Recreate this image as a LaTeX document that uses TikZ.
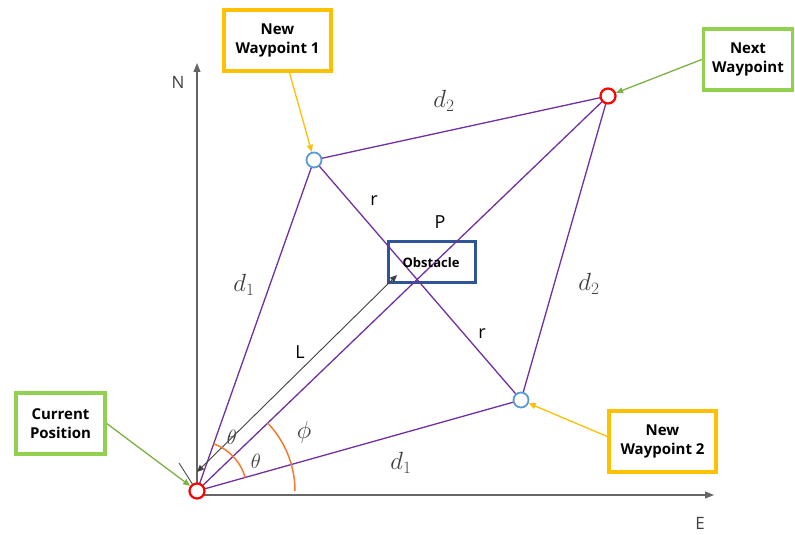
\documentclass[tikz,border=0pt]{standalone}
\usepackage{fontspec}
\setsansfont{Open Sans}
\usetikzlibrary{arrows.meta}
\definecolor{pur}{RGB}{112,48,160}
\definecolor{ylw}{RGB}{255,192,0}
\definecolor{grn}{RGB}{146,208,80}
\definecolor{dblue}{RGB}{47,85,151}
\definecolor{lblue}{RGB}{91,155,213}
\definecolor{ora}{RGB}{237,125,49}
\definecolor{txt}{RGB}{64,64,64}
\tikzset{
  pline/.style={draw=pur, line width=1.3pt},
  wpy/.style={circle, draw=lblue, fill=white, line width=1.8pt, minimum size=15pt, inner sep=0pt},
  wpr/.style={circle, draw=red, fill=white, line width=2.2pt, minimum size=15pt, inner sep=0pt},
  ybox/.style={draw=ylw, line width=3.5pt, fill=white, align=center, font=\sffamily\bfseries\fontsize{15}{19}\selectfont, minimum width=107pt, minimum height=61pt},
  gbox/.style={draw=grn, line width=3.5pt, fill=white, align=center, font=\sffamily\bfseries\fontsize{15}{19}\selectfont, minimum width=89pt, minimum height=61pt, inner sep=1pt},
  mlab/.style={text=txt, font=\fontsize{26}{26}\selectfont},
  slab/.style={text=black, font=\sffamily\fontsize{18}{18}\selectfont},
  oarc/.style={draw=ora, line width=1.5pt},
}
\begin{document}
\begin{tikzpicture}[x=1pt,y=-1pt]
\useasboundingbox (0,0) rectangle (795,535);
% axes
\coordinate (O) at (197,491);
\coordinate (Ntip) at (197,63);
\coordinate (Etip) at (714,495);
\coordinate (Nbase) at (197,495);
\coordinate (Ebase) at (197,495);
\draw[gray!80!black, line width=1.1pt, -{Triangle[length=9pt,width=7pt]}] (Nbase) -- (Ntip);
\draw[gray!80!black, line width=1.1pt, -{Triangle[length=9pt,width=7pt]}] (Ebase) -- (Etip);
\node[font=\sffamily\fontsize{17}{17}\selectfont, text=txt] (N) at (178,82) {N};
\node[font=\sffamily\fontsize{17}{17}\selectfont, text=txt] (E) at (700,523) {E};

% points
\coordinate (W1) at (314,160);
\coordinate (W2) at (521,400);
\coordinate (NX) at (608,96);

% obstacle
\node[draw=dblue, line width=3pt, fill=white, minimum width=87pt, minimum height=41pt, inner sep=0pt] (obs) at (431.5,261.5) {};

% lines
\draw[pline] (O) -- (W1);
\draw[pline] (O) -- (NX);
\draw[pline] (O) -- (W2);
\draw[pline] (W1) -- (NX);
\draw[pline] (W2) -- (NX);
\draw[pline] (W1) -- (W2);
\node[font=\sffamily\bfseries\fontsize{13}{13}\selectfont] (obstxt) at (431,263) {Obstacle};

% L dimension
\coordinate (La) at (197,472);
\coordinate (Lb) at (397,275);
\draw[black!75, line width=0.9pt, {Triangle[length=7pt,width=6pt]}-{Triangle[length=7pt,width=6pt]}] (La) -- (Lb);
\coordinate (t1) at (179,463);
\coordinate (t2) at (193,485);
\draw[black!70, line width=0.9pt] (t1) -- (t2);

% arcs
\draw[oarc] ([shift={(-15.7:50)}]O) arc[start angle=-15.7, end angle=-70.5, radius=50];
\draw[oarc] ([shift={(0:98)}]O) arc[start angle=0, end angle=-44, radius=98];

% circles
\node[wpy] (w1) at (W1) {};
\node[wpy] (w2) at (W2) {};
\node[wpr] (nx) at (NX) {};
\node[wpr] (o) at (O) {};

% labels
\node[mlab] (d1a) at (244,285) {$d_1$};
\node[mlab] (d1b) at (401,463) {$d_1$};
\node[mlab] (d2a) at (444,101) {$d_2$};
\node[mlab] (d2b) at (589,284) {$d_2$};
\node[text=txt, font=\fontsize{20}{20}\selectfont] (th1) at (232,437) {$\theta$};
\node[text=txt, font=\fontsize{20}{20}\selectfont] (th2) at (256,461) {$\theta$};
\node[text=txt, font=\fontsize{23}{23}\selectfont] (ph) at (304,432) {$\phi$};
\node[slab] (r1) at (374,201) {r};
\node[slab] (r2) at (482,334) {r};
\node[slab] (P) at (440,222) {P};
\node[slab] (L) at (300,352) {L};

% callout boxes
\node[ybox] (b1) at (277.5,40.5) {New\\Waypoint 1};
\node[ybox] (b2) at (662.5,441.5) {New\\Waypoint 2};
\node[gbox] (b3) at (748,59.5) {Next\\Waypoint};
\node[gbox] (b4) at (60.5,423.5) {Current\\Position};

\draw[ylw, line width=1.3pt, -{Triangle[length=7pt,width=6pt]}] (b1.south) ++(12,0) coordinate (a1) -- (w1);
\draw[ylw, line width=1.3pt, -{Triangle[length=7pt,width=6pt]}] (b2.west) ++(0,-5) coordinate (a2) -- (w2);
\draw[grn!85!black, line width=1.3pt, -{Triangle[length=7pt,width=6pt]}] (b3.west) -- (nx);
\draw[grn!85!black, line width=1.3pt, -{Triangle[length=7pt,width=6pt]}] (b4.east) -- (o);
\end{tikzpicture}
\end{document}
